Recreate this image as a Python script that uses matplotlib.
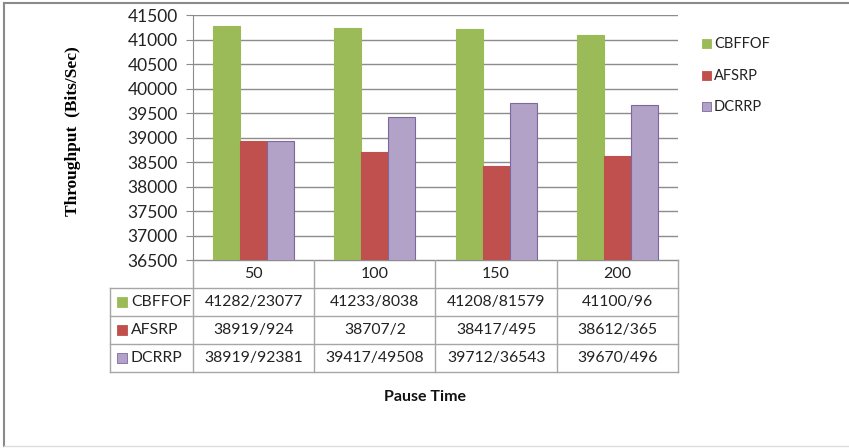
import matplotlib
matplotlib.use("Agg")
import matplotlib.pyplot as plt
from matplotlib.patches import Rectangle
import numpy as np

# pause times and throughput per protocol, as printed in the data table
pause_times = ["50", "100", "150", "200"]
protocols = ["CBFFOF", "AFSRP", "DCRRP"]
cbffof_vals = ["41282/23077", "41233/8038", "41208/81579", "41100/96"]
afsrp_vals = ["38919/924", "38707/2", "38417/495", "38612/365"]
dcrrp_vals = ["38919/92381", "39417/49508", "39712/36543", "39670/496"]
y_ticks = [36500, 37000, 37500, 38000, 38500, 39000, 39500, 40000, 40500, 41000, 41500]

colors = ["#9BBB59", "#C0504D", "#B3A2C7"]
edges = ["#9BBB59", "#C0504D", "#7B68A0"]
SANS = "Lato"
W, H = 849, 448


def to_num(s):
    # the table uses "/" as the decimal separator
    return float(s.replace("/", "."))


series = [cbffof_vals, afsrp_vals, dcrrp_vals]

fig = plt.figure(figsize=(W / 100, H / 100), dpi=100)

# overlay in pixel coordinates for the frame, table and legend
ov = fig.add_axes([0, 0, 1, 1])
ov.set_xlim(0, W)
ov.set_ylim(H, 0)
ov.axis("off")

ax_l, ax_r, ax_t, ax_b = 193, 678, 15, 260
ax = fig.add_axes([ax_l / W, 1 - ax_b / H, (ax_r - ax_l) / W, (ax_b - ax_t) / H])

n = len(pause_times)
x = np.arange(n)
bw = 1 / 4.5
for i, (vals, c, e) in enumerate(zip(series, colors, edges)):
    ax.bar(x + (i - 1) * bw, [to_num(v) for v in vals], width=bw,
           color=c, edgecolor=e, linewidth=0.8, zorder=3)

ax.set_xlim(-0.5, n - 0.5)
ax.set_ylim(y_ticks[0], y_ticks[-1])
ax.set_yticks(y_ticks)
ax.set_yticklabels([str(t) for t in y_ticks], fontfamily=SANS, fontsize=12.5,
                   color="#222222")
ax.set_xticks([])
ax.grid(axis="y", color="#8C8C8C", linewidth=1.0, zorder=0)
for s in ["top", "right", "bottom"]:
    ax.spines[s].set_visible(False)
ax.spines["left"].set_color("#8C8C8C")
ax.tick_params(axis="y", length=5, color="#8C8C8C", pad=6)

ov.text(73, 131, "Throughput  (Bits/Sec)", family="Liberation Serif",
        fontweight="bold", fontsize=12.5, rotation=90, ha="center", va="center")

# data table below the axis
line_c = "#A6A6A6"
row_h = 28
lab_l = 110
col_w = (ax_r - ax_l) / n
ov.plot([ax_l, ax_r], [ax_b, ax_b], color="#8C8C8C", lw=1.0)
for k in range(1, 4):
    y = ax_b + k * row_h
    ov.plot([lab_l, ax_r], [y, y], color=line_c, lw=1.0)
tb = ax_b + 4 * row_h
ov.plot([lab_l, ax_r], [tb, tb], color=line_c, lw=1.0)
ov.plot([lab_l, lab_l], [ax_b + row_h, tb], color=line_c, lw=1.0)
for j in range(n + 1):
    xx = ax_l + j * col_w
    ov.plot([xx, xx], [ax_b, tb], color=line_c, lw=1.0)

for j, p in enumerate(pause_times):
    ov.text(ax_l + (j + 0.5) * col_w, ax_b + row_h / 2, p, ha="center",
            va="center", fontsize=11.5, family=SANS, color="#222222")
for i, (name, vals) in enumerate(zip(protocols, series)):
    yc = ax_b + (i + 1.5) * row_h
    ov.add_patch(Rectangle((117, yc - 5), 10, 10, facecolor=colors[i],
                           edgecolor=edges[i], lw=0.6))
    ov.text(131, yc, name, ha="left", va="center", fontsize=11.3,
            family=SANS, color="#222222")
    for j, v in enumerate(vals):
        ov.text(ax_l + (j + 0.5) * col_w, yc, v, ha="center", va="center",
                fontsize=11.3, family=SANS, color="#222222")

# legend at the right
for i, name in enumerate(protocols):
    yc = 44 + i * 31.5
    ov.add_patch(Rectangle((702, yc - 4.5), 9, 9, facecolor=colors[i],
                           edgecolor=edges[i], lw=0.6))
    ov.text(714, yc, name, ha="left", va="center", fontsize=10.5,
            family=SANS, color="#222222")

ov.text(425, 397, "Pause Time", ha="center", va="center", fontsize=11.5,
        family=SANS, fontweight="bold", color="#111111")

# chart frame: dark top and left edges, faint bottom edge
ov.plot([4.5, W], [3.5, 3.5], color="#8A8A8A", lw=1.5)
ov.plot([4.5, 4.5], [3.5, 446.5], color="#8A8A8A", lw=1.5)
ov.plot([4.5, W], [446.5, 446.5], color="#DDDDDD", lw=1.0)

fig.savefig("out.png", dpi=100)
